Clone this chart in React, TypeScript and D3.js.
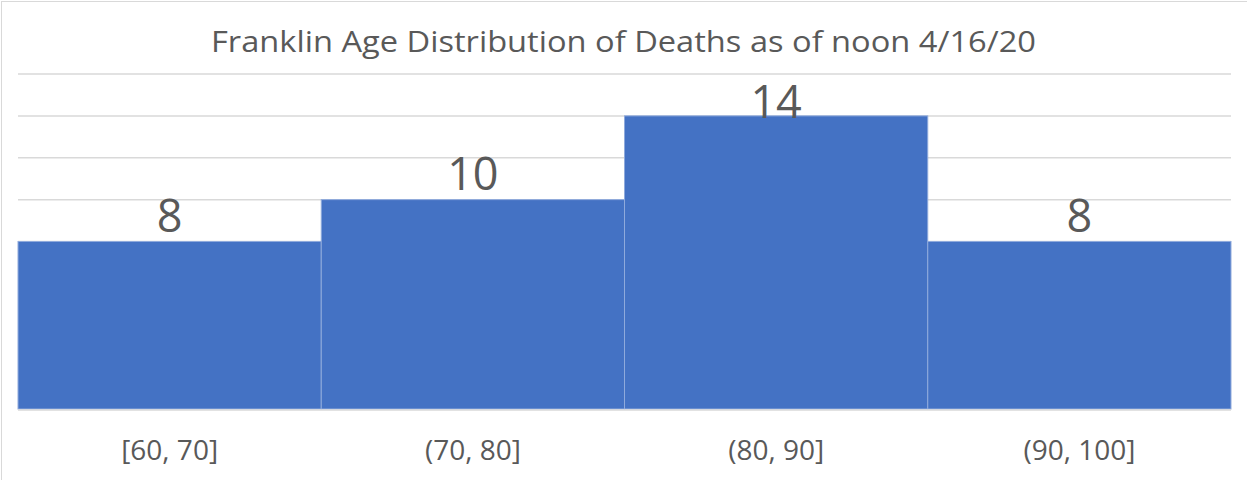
import * as d3 from 'd3';
import { type FC } from 'react';

const bins = ['[60, 70]', '(70, 80]', '(80, 90]', '(90, 100]'];
const deaths = [8, 10, 14, 8];
const gridTicks = [2, 4, 6, 8, 10, 12, 14, 16];

const title = 'Franklin Age Distribution of Deaths as of noon 4/16/20';

const W = 1247;
const H = 480;
const font = '"Open Sans", "Noto Sans", sans-serif';
const textColor = '#595959';

const App: FC = () => {
  const x = d3.scaleBand<string>().domain(bins).range([18, 1231]).padding(0);
  const y = d3.scaleLinear().domain([0, 16]).range([409, 74]);
  const plotTop = y(16);

  return (
    <svg
      width={W}
      height={H}
      style={{ position: 'absolute', left: 0, top: 0, background: '#fff' }}
      fontFamily={font}
    >
      {/* chart border (left / top edges visible) */}
      <line x1={1.5} x2={1.5} y1={1} y2={H} stroke="#d9d9d9" strokeWidth={1} />
      <line x1={1} x2={W} y1={1.5} y2={1.5} stroke="#d9d9d9" strokeWidth={1} />

      <text
        x={623.5}
        y={52}
        textAnchor="middle"
        fontSize={30}
        fill={textColor}
        textLength={825}
        lengthAdjust="spacingAndGlyphs"
      >
        {title}
      </text>

      {/* gridlines */}
      {gridTicks.map((t) => (
        <line
          key={t}
          x1={18}
          x2={1231}
          y1={y(t)}
          y2={y(t)}
          stroke="#d9d9d9"
          strokeWidth={1.5}
        />
      ))}

      {/* bars */}
      {bins.map((b, i) => (
        <rect
          key={b}
          x={x(b)}
          y={y(deaths[i])}
          width={x.bandwidth()}
          height={y(0) - y(deaths[i])}
          fill="#4472c4"
          stroke="#8faadc"
          strokeWidth={1}
        />
      ))}

      {/* baseline */}
      <line x1={18} x2={1231} y1={y(0) + 1} y2={y(0) + 1} stroke="#d9d9d9" strokeWidth={1.5} />

      {/* data labels */}
      {bins.map((b, i) => (
        <text
          key={b}
          x={(x(b) ?? 0) + x.bandwidth() / 2}
          y={Math.max(y(deaths[i]) - 10, plotTop + 44)}
          textAnchor="middle"
          fontSize={45}
          fill={textColor}
        >
          {deaths[i]}
        </text>
      ))}

      {/* category labels */}
      {bins.map((b) => (
        <text
          key={b}
          x={(x(b) ?? 0) + x.bandwidth() / 2}
          y={460}
          textAnchor="middle"
          fontSize={28}
          fill={textColor}
        >
          {b}
        </text>
      ))}
    </svg>
  );
};

export default App;
